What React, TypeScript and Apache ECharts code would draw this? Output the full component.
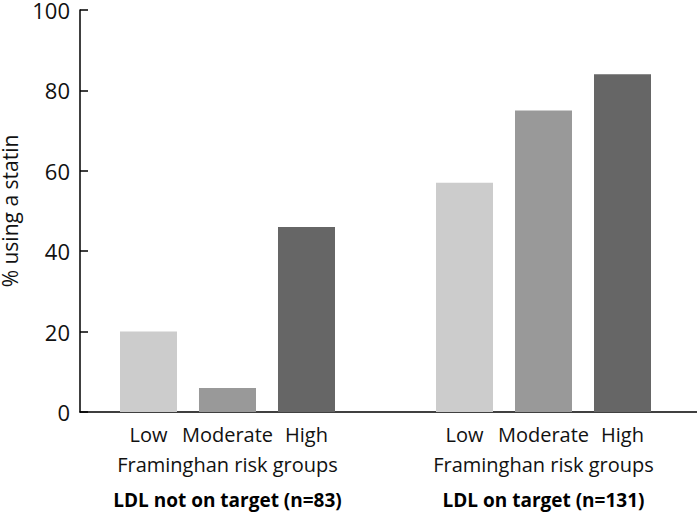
import React, { useEffect, useRef } from "react";
import * as echarts from "echarts";

const riskGroups = ["Low", "Moderate", "High"];
const groupTitles = ["LDL not on target (n=83)", "LDL on target (n=131)"];
const groupSubtitle = "Framinghan risk groups";
const notOnTarget = [20, 6, 46];
const onTarget = [57, 75, 84];
const riskColors = ["#cccccc", "#999999", "#666666"];

const FONT = "'Open Sans', 'Noto Sans', sans-serif";
const X_MIN = 0.133;
const X_MAX = 7.943;

export default function App() {
  const ref = useRef<HTMLDivElement>(null);
  useEffect(() => {
    document.body.style.margin = "0";
    if (!ref.current) return;
    const chart = echarts.init(ref.current, null, { renderer: "svg" });
    const groups = [notOnTarget, onTarget];
    const data: any[] = [];
    const positions: number[] = [];
    const groupCenters: number[] = [];
    const labelMap: Record<number, string> = {};
    const groupMap: Record<number, string> = {};
    groups.forEach((vals, g) => {
      vals.forEach((v, i) => {
        const x = g * 4 + i + 1;
        positions.push(x);
        data.push({ value: [x, v], itemStyle: { color: riskColors[i] } });
        labelMap[x] = riskGroups[i];
      });
      const c = g * 4 + 2;
      groupCenters.push(c);
      groupMap[c] = `{g|${groupSubtitle}}\n{t|${groupTitles[g]}}`;
    });
    chart.setOption({
      animation: false,
      grid: { left: 80, right: 0, top: 10, bottom: 104, outerBoundsMode: "none", containLabel: false },
      xAxis: [
        {
          type: "value",
          min: X_MIN,
          max: X_MAX,
          splitLine: { show: false },
          axisLine: { show: true, lineStyle: { color: "#000", width: 1.5 } },
          axisTick: { show: false },
          axisLabel: {
            customValues: positions,
            margin: 12,
            hideOverlap: false,
            fontFamily: FONT,
            fontSize: 20,
            color: "#111",
            formatter: (v: number) => labelMap[Math.round(v)] ?? "",
          },
        },
        {
          type: "value",
          position: "bottom",
          min: X_MIN,
          max: X_MAX,
          splitLine: { show: false },
          axisLine: { show: false },
          axisTick: { show: false },
          axisLabel: {
            customValues: groupCenters,
            margin: 38,
            hideOverlap: false,
            formatter: (v: number) => groupMap[Math.round(v)] ?? "",
            rich: {
              g: { fontFamily: FONT, fontSize: 20, color: "#111", lineHeight: 28 },
              t: { fontFamily: FONT, fontSize: 19, fontWeight: "bold", color: "#000", lineHeight: 44 },
            },
          },
        },
      ],
      yAxis: {
        type: "value",
        min: 0,
        max: 100,
        interval: 20,
        name: "% using a statin",
        nameLocation: "middle",
        nameGap: 50,
        nameTextStyle: { fontFamily: FONT, fontSize: 21, color: "#111", lineHeight: 22 },
        splitLine: { show: false },
        axisLine: { show: true, lineStyle: { color: "#000", width: 1.5 } },
        axisTick: { show: true, inside: true, length: 8, lineStyle: { color: "#000", width: 1.5 } },
        axisLabel: {
          fontFamily: FONT,
          fontSize: 22,
          lineHeight: 20,
          color: "#111",
          margin: 10,
        },
      },
      series: [
        {
          type: "bar",
          xAxisIndex: 0,
          barWidth: 57,
          data,
        },
      ],
    });
    return () => chart.dispose();
  }, []);
  return <div ref={ref} style={{ width: 697, height: 516 }} />;
}
